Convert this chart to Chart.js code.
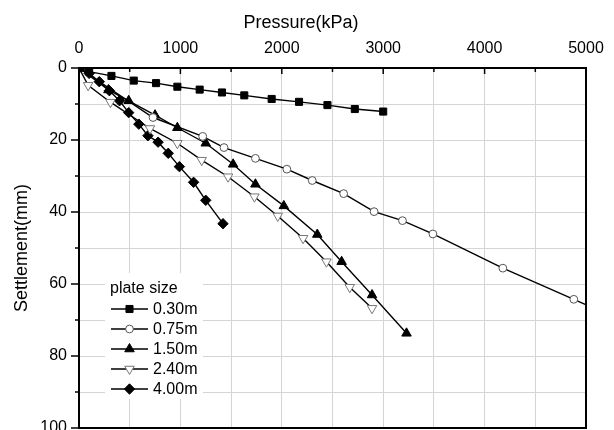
<!DOCTYPE html>
<html>
<head>
<meta charset="utf-8">
<script src="https://cdn.jsdelivr.net/npm/chart.js@4/dist/chart.umd.min.js"></script>
<style>
html,body{margin:0;padding:0;background:#fff;overflow:hidden;}
canvas{display:block;}
</style>
</head>
<body>
<canvas id="c" width="614" height="450"></canvas>
<script>
// ---- data ----
const seriesLabels = ['0.30m', '0.75m', '1.50m', '2.40m', '4.00m'];
const legendTitle = 'plate size';
const xTitle = 'Pressure(kPa)';
const yTitle = 'Settlement(mm)';

const pressure030 = [0, 100, 320, 540, 760, 970, 1190, 1410, 1630, 1900, 2170, 2450, 2720, 3000];
const settle030   = [0, 1.0, 2.2, 3.5, 4.2, 5.2, 6.0, 6.8, 7.6, 8.6, 9.4, 10.3, 11.4, 12.1];

const pressure075 = [0, 730, 1220, 1430, 1740, 2050, 2300, 2610, 2910, 3190, 3490, 4180, 4880, 5300];
const settle075   = [0, 13.75, 19.0, 22.1, 25.1, 28.1, 31.25, 34.9, 39.9, 42.4, 46.1, 55.6, 64.25, 69.5];

const pressure150 = [0, 290, 490, 750, 970, 1250, 1520, 1740, 2020, 2350, 2590, 2890, 3230];
const settle150   = [0, 6.1, 9.1, 13.1, 16.6, 20.9, 26.75, 32.3, 38.3, 46.25, 53.8, 63.05, 73.7];

const pressure240 = [0, 90, 310, 700, 970, 1210, 1470, 1730, 1960, 2210, 2440, 2670, 2890];
const settle240   = [0, 4.8, 9.5, 16.8, 20.9, 25.6, 30.2, 35.75, 41.1, 47.3, 53.8, 60.9, 66.75];

const pressure400 = [0, 100, 200, 300, 400, 490, 590, 680, 780, 880, 990, 1130, 1250, 1420];
const settle400   = [0, 1.5, 3.8, 6.3, 9.1, 12.4, 15.6, 18.8, 20.6, 23.7, 27.4, 31.75, 36.75, 43.25];

const pressureTicks = [0, 1000, 2000, 3000, 4000, 5000];
const settlementTicks = [0, 20, 40, 60, 80, 100];

// ---- chart ----
const FONT = 'Liberation Sans, Arial, sans-serif';
const pts = (xs, ys) => xs.map((v, i) => ({x: v, y: ys[i]}));

const styles = [
  {pointStyle: 'rect', radius: 5, bg: '#000', bc: '#000', rot: 0},
  {pointStyle: 'circle', radius: 3.9, bg: '#fff', bc: '#555', rot: 0},
  {pointStyle: 'triangle', radius: 5.5, bg: '#000', bc: '#000', rot: 0},
  {pointStyle: 'triangle', radius: 5.5, bg: '#fff', bc: '#777', rot: 180},
  {pointStyle: 'rectRot', radius: 5.2, bg: '#000', bc: '#000', rot: 0}
];
const seriesData = [
  pts(pressure030, settle030),
  pts(pressure075, settle075),
  pts(pressure150, settle150),
  pts(pressure240, settle240),
  pts(pressure400, settle400)
];

const datasets = seriesData.map((d, i) => ({
  label: seriesLabels[i],
  data: d,
  showLine: true,
  borderColor: '#000',
  borderWidth: 1.4,
  tension: 0,
  pointStyle: styles[i].pointStyle,
  pointRadius: styles[i].radius,
  pointHoverRadius: styles[i].radius,
  pointRotation: styles[i].rot,
  pointBackgroundColor: styles[i].bg,
  pointBorderColor: styles[i].bc,
  pointBorderWidth: 1
}));

function drawMarker(ctx, st, x, y) {
  ctx.save();
  ctx.fillStyle = st.bg;
  ctx.strokeStyle = st.bc;
  ctx.lineWidth = 1;
  if (Chart.helpers && Chart.helpers.drawPoint) {
    Chart.helpers.drawPoint(ctx, {pointStyle: st.pointStyle, radius: st.radius, rotation: st.rot, borderWidth: 1}, x, y);
  }
  ctx.restore();
}

const decorPlugin = {
  id: 'decor',
  afterDatasetsDraw(chart) {
    const {ctx, chartArea: a, scales} = chart;
    const xs = scales.x, ys = scales.y;
    ctx.save();
    // legend box
    const lx = 105, ly = 273, lw = 98, lh = 126;
    ctx.fillStyle = '#fff';
    ctx.fillRect(lx, ly, lw, lh);
    ctx.fillStyle = '#000';
    ctx.font = '16px ' + FONT;
    ctx.textBaseline = 'middle';
    ctx.textAlign = 'left';
    ctx.fillText(legendTitle, 110, 289);
    seriesLabels.forEach((lab, i) => {
      const yy = 309 + i * 20;
      ctx.strokeStyle = '#000';
      ctx.lineWidth = 1.4;
      ctx.beginPath();
      ctx.moveTo(111, yy);
      ctx.lineTo(148, yy);
      ctx.stroke();
      drawMarker(ctx, styles[i], 129.5, yy);
      ctx.fillStyle = '#000';
      ctx.fillText(lab, 153, yy + 1);
    });
    // tick marks
    ctx.strokeStyle = '#000';
    ctx.lineWidth = 1.5;
    for (let v = xs.min; v <= xs.max; v += 500) {
      const px = xs.getPixelForValue(v);
      const len = pressureTicks.includes(v) ? 6 : 4;
      ctx.beginPath();
      ctx.moveTo(px, a.top);
      ctx.lineTo(px, a.top + len);
      ctx.stroke();
    }
    for (let v = ys.min; v <= ys.max; v += 10) {
      const py = ys.getPixelForValue(v);
      const len = settlementTicks.includes(v) ? 8 : 4;
      ctx.beginPath();
      ctx.moveTo(a.left - len, py);
      ctx.lineTo(a.left, py);
      ctx.stroke();
    }
    // frame
    ctx.lineWidth = 2;
    ctx.strokeRect(a.left, a.top, a.right - a.left, a.bottom - a.top);
    // x axis title (centred over the figure as in the reference)
    ctx.fillStyle = '#000';
    ctx.font = '18px ' + FONT;
    ctx.textAlign = 'center';
    ctx.textBaseline = 'middle';
    ctx.fillText(xTitle, 301, 23);
    ctx.restore();
  }
};

new Chart(document.getElementById('c'), {
  type: 'scatter',
  data: {datasets},
  plugins: [decorPlugin],
  options: {
    responsive: false,
    animation: false,
    devicePixelRatio: 1,
    layout: {padding: {left: 0, top: 0, right: 28, bottom: 22}},
    plugins: {legend: {display: false}, tooltip: {enabled: false}},
    scales: {
      x: {
        type: 'linear',
        position: 'top',
        min: 0,
        max: 5000,
        afterFit: s => { s.height = 68; },
        ticks: {
          stepSize: 500,
          padding: 10,
          color: '#000',
          font: {family: FONT, size: 16},
          maxRotation: 0,
          autoSkip: false,
          callback: v => pressureTicks.includes(v) ? String(v) : ''
        },
        grid: {color: '#d4d4d4', lineWidth: 1, drawTicks: false},
        border: {display: false},
        title: {display: false}
      },
      y: {
        type: 'linear',
        position: 'left',
        reverse: true,
        min: 0,
        max: 100,
        afterFit: s => { s.width = 79; },
        ticks: {
          stepSize: 10,
          padding: 12,
          color: '#000',
          font: {family: FONT, size: 16},
          autoSkip: false,
          callback: v => settlementTicks.includes(v) ? String(v) : ''
        },
        grid: {color: '#d4d4d4', lineWidth: 1, drawTicks: false},
        border: {display: false},
        title: {display: true, text: yTitle, color: '#000',
                font: {family: FONT, size: 18}, padding: {top: 11, bottom: 0}}
      }
    }
  }
});
</script>
</body>
</html>
